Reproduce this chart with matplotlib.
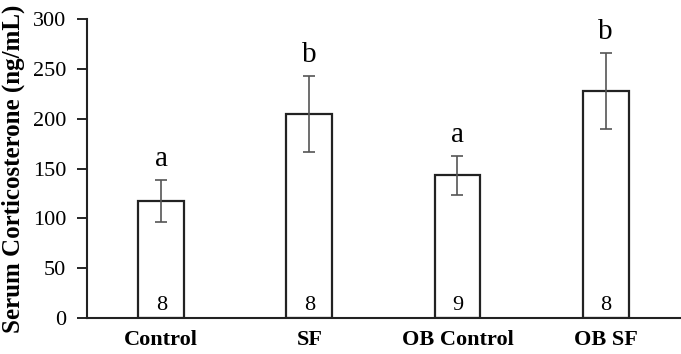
import numpy as np
import matplotlib
matplotlib.use("Agg")
import matplotlib.pyplot as plt

# values
groups = ["Control", "SF", "OB Control", "OB SF"]
means = [117, 205, 143, 228]
errors = [21, 38, 20, 38]
letters = ["a", "b", "a", "b"]
n_counts = [8, 8, 9, 8]

plt.rcParams['font.family'] = ['Liberation Serif', 'DejaVu Serif']

fig = plt.figure(figsize=(6.81, 3.54), dpi=100)
ax = fig.add_axes([0.128, 0.102, 0.87, 0.844])

x = np.arange(len(groups))
ax.bar(x, means, width=0.31, color="white", edgecolor="#222222", linewidth=1.6, zorder=2)
ax.errorbar(x, means, yerr=errors, fmt="none", ecolor="#555555", elinewidth=1.2,
            capsize=4, capthick=1.2, zorder=3)

for xi, m, e, lab, n in zip(x, means, errors, letters, n_counts):
    ax.text(xi, m + e + 8, lab, ha="center", va="bottom", fontsize=21)
    ax.text(xi, 3, str(n), ha="center", va="bottom", fontsize=16)

ax.set_xlim(-0.5, 3.5)
ax.set_ylim(0, 300)
ax.set_yticks(np.arange(0, 301, 50))
ax.tick_params(axis="y", labelsize=16, length=7, width=1.2, direction="out", pad=8)
ax.tick_params(axis="x", length=0, pad=9)
ax.set_xticks(x)
ax.set_xticklabels(groups, fontsize=16, fontweight="bold")
ax.set_ylabel("Serum Corticosterone (ng/mL)", fontsize=18, fontweight="bold", labelpad=6)

for side in ["top", "right"]:
    ax.spines[side].set_visible(False)
for side in ["left", "bottom"]:
    ax.spines[side].set_linewidth(1.5)
    ax.spines[side].set_color("#222222")

fig.savefig("out.png", dpi=100)
